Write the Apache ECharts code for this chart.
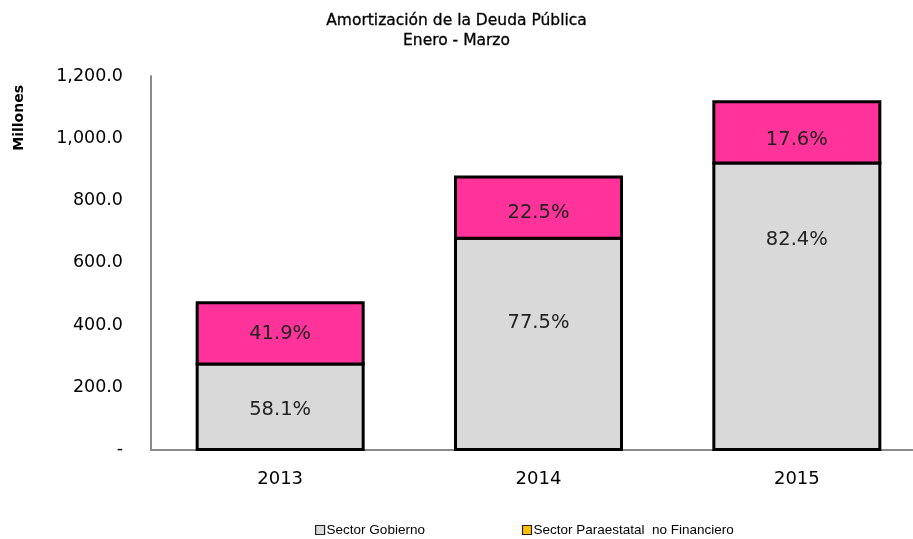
<!DOCTYPE html>
<html>
<head>
<meta charset="utf-8">
<script src="https://cdn.jsdelivr.net/npm/echarts@6/dist/echarts.min.js"></script>
<style>
html,body{margin:0;padding:0;background:#fff;}
#c{width:913px;height:539px;}
</style>
</head>
<body>
<div id="c"></div>
<script>
var categories = ['2013', '2014', '2015'];
var gobierno = [274.5, 678.5, 920.8];
var paraestatal = [197.1, 197.0, 196.7];
var pctGobierno = ['58.1%', '77.5%', '82.4%'];
var pctParaestatal = ['41.9%', '22.5%', '17.6%'];

var FONT = 'DejaVu Sans';
var chart = echarts.init(document.getElementById('c'));

function fmt(v) {
  if (v === 0) return '-';
  return v.toLocaleString('en-US', {minimumFractionDigits: 1, maximumFractionDigits: 1});
}

// label placement (style, not data)
var gobOffsets = [3, -21, -66];
var paraOffsets = [1, 5, 8];

function makeRender(fill, pcts, offsets) {
  return function (params, api) {
    var idx = api.value(0);
    var base = api.value(1);
    var top = api.value(2);
    var p0 = api.coord([idx, base]);
    var p1 = api.coord([idx, top]);
    var w = 166;
    var x = p0[0] - w / 2;
    var cy = (p0[1] + p1[1]) / 2 + offsets[params.dataIndex];
    return {
      type: 'group',
      children: [
        {
          type: 'rect',
          shape: {x: x, y: p1[1], width: w, height: p0[1] - p1[1]},
          style: {fill: fill, stroke: '#000', lineWidth: 3}
        },
        {
          type: 'text',
          x: p0[0], y: cy,
          style: {
            text: pcts[params.dataIndex],
            font: '19.5px "DejaVu Sans"',
            fill: '#222',
            align: 'center',
            verticalAlign: 'middle'
          }
        }
      ]
    };
  };
}

var gobData = gobierno.map(function (v, i) { return [i, 0, v]; });
var paraData = paraestatal.map(function (v, i) { return [i, gobierno[i], gobierno[i] + v]; });

chart.setOption({
  animation: false,
  title: {
    text: 'Amortización de la Deuda Pública\nEnero - Marzo',
    left: 'center',
    top: 6,
    textStyle: {fontFamily: FONT, fontSize: 15.5, fontWeight: 'normal', color: '#000', lineHeight: 20,
      textBorderColor: '#000', textBorderWidth: 0.3}
  },
  graphic: [{
    type: 'text',
    left: 12,
    top: 85,
    rotation: Math.PI / 2,
    style: {text: 'Millones', font: 'bold 14px "DejaVu Sans"', fill: '#000'}
  }],
  legend: {
    left: 310,
    top: 518,
    itemGap: 97,
    itemWidth: 9,
    itemHeight: 9,
    icon: 'rect',
    textStyle: {fontFamily: 'Liberation Sans', fontSize: 13.5, color: '#000', padding: [0, 0, 0, -3]},
    data: [
      {name: 'Sector Gobierno', itemStyle: {color: '#d9d9d9', borderColor: '#222', borderWidth: 1.2}},
      {name: 'Sector Paraestatal  no Financiero', itemStyle: {color: '#ffc000', borderColor: '#222', borderWidth: 1.2}}
    ]
  },
  grid: {left: 151, top: 76, width: 775, bottom: 89.5, outerBoundsMode: 'none', containLabel: false},
  xAxis: {
    type: 'category',
    data: categories,
    axisLine: {lineStyle: {color: '#8a8a8a', width: 2}},
    axisTick: {show: false},
    axisLabel: {fontFamily: FONT, fontSize: 18, color: '#000', margin: 21}
  },
  yAxis: {
    type: 'value',
    min: 0,
    max: 1200,
    interval: 200,
    axisLine: {show: true, lineStyle: {color: '#8a8a8a', width: 2}},
    axisTick: {show: false},
    splitLine: {show: false},
    axisLabel: {fontFamily: FONT, fontSize: 17.5, color: '#000', margin: 28, formatter: fmt}
  },
  series: [
    {
      name: 'Sector Gobierno',
      type: 'custom',
      renderItem: makeRender('#d9d9d9', pctGobierno, gobOffsets),
      encode: {x: 0, y: [1, 2]},
      itemStyle: {color: '#d9d9d9'},
      data: gobData
    },
    {
      name: 'Sector Paraestatal  no Financiero',
      type: 'custom',
      renderItem: makeRender('#ff3399', pctParaestatal, paraOffsets),
      encode: {x: 0, y: [1, 2]},
      itemStyle: {color: '#ffc000'},
      data: paraData
    }
  ]
});
</script>
</body>
</html>
